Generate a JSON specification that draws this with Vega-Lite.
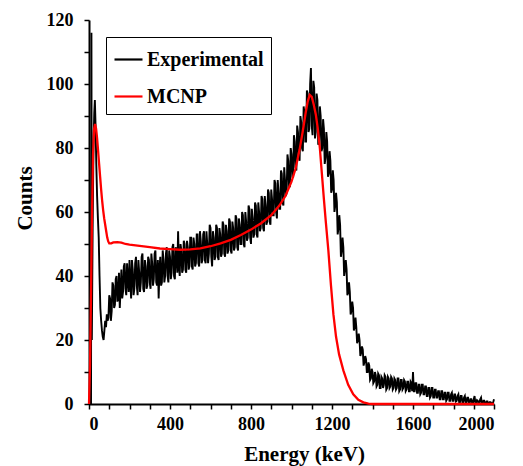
{
"$schema": "https://vega.github.io/schema/vega-lite/v6.json",
"width": 405, "height": 384,
"autosize": {"type": "none"},
"padding": {"left": 89, "top": 20, "right": 29, "bottom": 62},
"background": "white",
"config": {"view": {"stroke": null}, "font": "Liberation Serif",
 "axis": {"domainColor": "black", "domainWidth": 2, "grid": false, "tickColor": "black", "tickWidth": 1.5, "tickSize": 5,
  "labelFont": "Liberation Serif", "labelFontWeight": "bold", "labelFontSize": 18, "labelColor": "black",
  "titleFont": "Liberation Serif", "titleFontWeight": "bold", "titleFontSize": 21, "titleColor": "black"}},
"datasets": {
"exp": [
{"e":0,"c":0},{"e":6,"c":0},{"e":10,"c":0},{"e":12,"c":116},{"e":14,"c":20},{"e":18,"c":55},{"e":22,"c":80},{"e":26,"c":91},{"e":29,"c":95},{"e":32,"c":88},{"e":36,"c":75},{"e":40,"c":65},{"e":44,"c":58},{"e":48,"c":52},{"e":52,"c":40},{"e":56,"c":30},{"e":60,"c":26},{"e":64,"c":23},{"e":68,"c":21},{"e":72,"c":20},{"e":76,"c":23},{"e":80,"c":26},{"e":84,"c":24},{"e":88,"c":28},{"e":92,"c":26},
{"e":96,"c":27},{"e":100,"c":34},{"e":104,"c":33},{"e":108,"c":26},{"e":112,"c":29},{"e":116,"c":38},{"e":120,"c":37},{"e":124,"c":30},{"e":128,"c":31},{"e":132,"c":39},{"e":136,"c":40},{"e":140,"c":32},{"e":144,"c":33},{"e":148,"c":41},{"e":152,"c":30},{"e":156,"c":36},{"e":160,"c":42},{"e":164,"c":33},{"e":168,"c":35},{"e":172,"c":43},{"e":176,"c":44},{"e":180,"c":36},{"e":184,"c":34},{"e":188,"c":44},{"e":192,"c":39},{"e":196,"c":35},{"e":200,"c":45},
{"e":204,"c":38},{"e":208,"c":33},{"e":212,"c":45},{"e":216,"c":42},{"e":220,"c":34},{"e":224,"c":36},{"e":228,"c":44},{"e":232,"c":46},{"e":236,"c":37},{"e":240,"c":34},{"e":244,"c":45},{"e":248,"c":41},{"e":252,"c":35},{"e":256,"c":38},{"e":260,"c":46},{"e":264,"c":47},{"e":268,"c":36},{"e":272,"c":35},{"e":276,"c":45},{"e":280,"c":43},{"e":284,"c":36},{"e":288,"c":37},{"e":292,"c":46},{"e":296,"c":45},{"e":300,"c":38},
{"e":304,"c":36},{"e":308,"c":47},{"e":312,"c":44},{"e":316,"c":37},{"e":320,"c":39},{"e":324,"c":47},{"e":328,"c":48},{"e":332,"c":38},{"e":336,"c":37},{"e":340,"c":45},{"e":344,"c":33},{"e":348,"c":42},{"e":352,"c":46},{"e":356,"c":37},{"e":360,"c":38},{"e":364,"c":48},{"e":368,"c":45},{"e":372,"c":38},{"e":376,"c":40},{"e":380,"c":47},{"e":384,"c":49},{"e":388,"c":40},{"e":392,"c":38},{"e":396,"c":48},{"e":400,"c":46},
{"e":404,"c":39},{"e":408,"c":41},{"e":412,"c":49},{"e":416,"c":50},{"e":420,"c":40},{"e":424,"c":39},{"e":428,"c":49},{"e":432,"c":47},{"e":436,"c":41},{"e":440,"c":54},{"e":444,"c":43},{"e":448,"c":40},{"e":452,"c":50},{"e":456,"c":48},{"e":460,"c":41},{"e":464,"c":42},{"e":468,"c":51},{"e":472,"c":50},{"e":476,"c":42},{"e":480,"c":41},{"e":484,"c":51},{"e":488,"c":49},{"e":492,"c":42},{"e":496,"c":43},{"e":500,"c":52},
{"e":504,"c":52},{"e":508,"c":43},{"e":512,"c":42},{"e":516,"c":52},{"e":520,"c":50},{"e":524,"c":43},{"e":528,"c":44},{"e":532,"c":53},{"e":536,"c":53},{"e":540,"c":44},{"e":544,"c":43},{"e":548,"c":54},{"e":552,"c":51},{"e":556,"c":44},{"e":560,"c":45},{"e":564,"c":53},{"e":568,"c":54},{"e":572,"c":45},{"e":576,"c":44},{"e":580,"c":54},{"e":584,"c":50},{"e":588,"c":44},{"e":592,"c":47},{"e":596,"c":56},{"e":600,"c":55},
{"e":604,"c":46},{"e":608,"c":43},{"e":612,"c":54},{"e":616,"c":52},{"e":620,"c":45},{"e":624,"c":46},{"e":628,"c":56},{"e":632,"c":55},{"e":636,"c":46},{"e":640,"c":45},{"e":644,"c":55},{"e":648,"c":53},{"e":652,"c":46},{"e":656,"c":47},{"e":660,"c":57},{"e":664,"c":56},{"e":668,"c":47},{"e":672,"c":46},{"e":676,"c":56},{"e":680,"c":54},{"e":684,"c":47},{"e":688,"c":48},{"e":692,"c":58},{"e":696,"c":57},{"e":700,"c":48},
{"e":704,"c":47},{"e":708,"c":57},{"e":712,"c":55},{"e":716,"c":48},{"e":720,"c":49},{"e":724,"c":59},{"e":728,"c":58},{"e":732,"c":49},{"e":736,"c":48},{"e":740,"c":58},{"e":744,"c":56},{"e":748,"c":50},{"e":752,"c":50},{"e":756,"c":60},{"e":760,"c":59},{"e":764,"c":50},{"e":768,"c":49},{"e":772,"c":60},{"e":776,"c":57},{"e":780,"c":51},{"e":784,"c":52},{"e":788,"c":62},{"e":792,"c":61},{"e":796,"c":52},{"e":800,"c":50},
{"e":804,"c":61},{"e":808,"c":58},{"e":812,"c":52},{"e":816,"c":53},{"e":820,"c":63},{"e":824,"c":62},{"e":828,"c":53},{"e":832,"c":52},{"e":836,"c":63},{"e":840,"c":60},{"e":844,"c":54},{"e":848,"c":55},{"e":852,"c":65},{"e":856,"c":64},{"e":860,"c":55},{"e":864,"c":54},{"e":868,"c":65},{"e":872,"c":62},{"e":876,"c":56},{"e":880,"c":57},{"e":884,"c":67},{"e":888,"c":66},{"e":892,"c":57},{"e":896,"c":56},{"e":900,"c":67},
{"e":904,"c":64},{"e":908,"c":59},{"e":912,"c":59},{"e":916,"c":70},{"e":920,"c":69},{"e":924,"c":60},{"e":928,"c":58},{"e":932,"c":70},{"e":936,"c":66},{"e":940,"c":61},{"e":944,"c":61},{"e":948,"c":73},{"e":952,"c":72},{"e":956,"c":63},{"e":960,"c":62},{"e":964,"c":74},{"e":968,"c":70},{"e":972,"c":65},{"e":976,"c":66},{"e":980,"c":78},{"e":984,"c":76},{"e":988,"c":68},{"e":992,"c":68},{"e":996,"c":80},{"e":1000,"c":78},
{"e":1004,"c":71},{"e":1008,"c":71},{"e":1012,"c":84},{"e":1016,"c":82},{"e":1020,"c":74},{"e":1024,"c":73},{"e":1028,"c":87},{"e":1032,"c":85},{"e":1036,"c":77},{"e":1040,"c":76},{"e":1044,"c":90},{"e":1048,"c":88},{"e":1052,"c":80},{"e":1056,"c":79},{"e":1060,"c":93},{"e":1064,"c":91},{"e":1068,"c":82},{"e":1072,"c":82},{"e":1076,"c":98},{"e":1080,"c":97},{"e":1084,"c":85},{"e":1088,"c":86},{"e":1092,"c":100},{"e":1096,"c":105},{"e":1100,"c":87},
{"e":1104,"c":84},{"e":1108,"c":101},{"e":1112,"c":99},{"e":1116,"c":83},{"e":1120,"c":85},{"e":1124,"c":97},{"e":1128,"c":95},{"e":1132,"c":81},{"e":1136,"c":82},{"e":1140,"c":93},{"e":1144,"c":90},{"e":1148,"c":79},{"e":1152,"c":80},{"e":1156,"c":89},{"e":1160,"c":86},{"e":1164,"c":75},{"e":1168,"c":77},{"e":1172,"c":85},{"e":1176,"c":82},{"e":1180,"c":71},{"e":1184,"c":72},{"e":1188,"c":79},{"e":1192,"c":76},{"e":1196,"c":66},{"e":1200,"c":67},
{"e":1204,"c":73},{"e":1208,"c":70},{"e":1212,"c":60},{"e":1216,"c":62},{"e":1220,"c":66},{"e":1224,"c":63},{"e":1228,"c":53},{"e":1232,"c":55},{"e":1236,"c":59},{"e":1240,"c":56},{"e":1244,"c":46},{"e":1248,"c":48},{"e":1252,"c":52},{"e":1256,"c":49},{"e":1260,"c":40},{"e":1264,"c":42},{"e":1268,"c":45},{"e":1272,"c":42},{"e":1276,"c":34},{"e":1280,"c":35},{"e":1284,"c":38},{"e":1288,"c":35},{"e":1292,"c":28},{"e":1296,"c":29},{"e":1300,"c":32},
{"e":1304,"c":30},{"e":1308,"c":23},{"e":1312,"c":24},{"e":1316,"c":27},{"e":1320,"c":24},{"e":1324,"c":19},{"e":1328,"c":20},{"e":1332,"c":22},{"e":1336,"c":20},{"e":1340,"c":15},{"e":1344,"c":16},{"e":1348,"c":18},{"e":1352,"c":17},{"e":1356,"c":12},{"e":1360,"c":13},{"e":1364,"c":15},{"e":1368,"c":14},{"e":1372,"c":10},{"e":1376,"c":10},{"e":1380,"c":13},{"e":1384,"c":12},{"e":1388,"c":7.5},{"e":1392,"c":8},{"e":1396,"c":11},{"e":1400,"c":10},
{"e":1404,"c":6.5},{"e":1408,"c":7},{"e":1412,"c":10},{"e":1416,"c":9},{"e":1420,"c":5.5},{"e":1424,"c":6},{"e":1428,"c":9.5},{"e":1432,"c":9},{"e":1436,"c":5},{"e":1440,"c":5},{"e":1444,"c":8.5},{"e":1448,"c":8},{"e":1452,"c":5},{"e":1456,"c":6},{"e":1460,"c":9},{"e":1464,"c":8.5},{"e":1468,"c":4.5},{"e":1472,"c":5},{"e":1476,"c":8.5},{"e":1480,"c":8},{"e":1484,"c":5},{"e":1488,"c":5.5},{"e":1492,"c":8.5},{"e":1496,"c":8},{"e":1500,"c":4.5},
{"e":1504,"c":5},{"e":1508,"c":8},{"e":1512,"c":7.5},{"e":1516,"c":4.5},{"e":1520,"c":5},{"e":1524,"c":8},{"e":1528,"c":8},{"e":1532,"c":4},{"e":1536,"c":4.5},{"e":1540,"c":7.5},{"e":1544,"c":7.5},{"e":1548,"c":4.5},{"e":1552,"c":5},{"e":1556,"c":7.5},{"e":1560,"c":7},{"e":1564,"c":4},{"e":1568,"c":4.5},{"e":1572,"c":7},{"e":1576,"c":7},{"e":1580,"c":4},{"e":1584,"c":4},{"e":1588,"c":7},{"e":1592,"c":6.5},{"e":1596,"c":4},{"e":1600,"c":10},
{"e":1604,"c":4},{"e":1608,"c":4},{"e":1612,"c":6.5},{"e":1616,"c":6.5},{"e":1620,"c":3.5},{"e":1624,"c":3.5},{"e":1628,"c":6},{"e":1632,"c":6},{"e":1636,"c":3},{"e":1640,"c":3.5},{"e":1644,"c":6},{"e":1648,"c":6},{"e":1652,"c":3},{"e":1656,"c":3},{"e":1660,"c":5.5},{"e":1664,"c":5.5},{"e":1668,"c":2.5},{"e":1672,"c":2.5},{"e":1676,"c":5},{"e":1680,"c":5},{"e":1684,"c":2},{"e":1688,"c":2.5},{"e":1692,"c":5},{"e":1696,"c":5},{"e":1700,"c":2},
{"e":1704,"c":2},{"e":1708,"c":4.5},{"e":1712,"c":4.5},{"e":1716,"c":2},{"e":1720,"c":2},{"e":1724,"c":4},{"e":1728,"c":4},{"e":1732,"c":1.5},{"e":1736,"c":1.5},{"e":1740,"c":4},{"e":1744,"c":4},{"e":1748,"c":1.5},{"e":1752,"c":1.5},{"e":1756,"c":3.5},{"e":1760,"c":3.5},{"e":1764,"c":1},{"e":1768,"c":1.5},{"e":1772,"c":3.5},{"e":1776,"c":3.5},{"e":1780,"c":1},{"e":1784,"c":1},{"e":1788,"c":3},{"e":1792,"c":3.5},{"e":1796,"c":1},{"e":1800,"c":1},
{"e":1804,"c":3},{"e":1808,"c":3},{"e":1812,"c":0.8},{"e":1816,"c":1},{"e":1820,"c":2.5},{"e":1824,"c":3},{"e":1828,"c":0.5},{"e":1832,"c":0.5},{"e":1836,"c":2.5},{"e":1840,"c":2.5},{"e":1844,"c":0.5},{"e":1848,"c":0.5},{"e":1852,"c":2},{"e":1856,"c":2.5},{"e":1860,"c":0.4},{"e":1864,"c":0.5},{"e":1868,"c":2},{"e":1872,"c":2},{"e":1876,"c":0.3},{"e":1880,"c":0.3},{"e":1884,"c":1.5},{"e":1888,"c":1.5},{"e":1892,"c":0.3},{"e":1896,"c":0.3},{"e":1900,"c":1.5},
{"e":1904,"c":2.5},{"e":1908,"c":0.3},{"e":1912,"c":0.3},{"e":1916,"c":1.2},{"e":1920,"c":1},{"e":1924,"c":0.3},{"e":1928,"c":0.3},{"e":1932,"c":1.5},{"e":1936,"c":2},{"e":1940,"c":0.2},{"e":1944,"c":0.2},{"e":1948,"c":1},{"e":1952,"c":1},{"e":1956,"c":0.2},{"e":1960,"c":0.2},{"e":1964,"c":0.8},{"e":1968,"c":0.8},{"e":1972,"c":0.2},{"e":1976,"c":0.2},{"e":1980,"c":0.6},{"e":1984,"c":0.5},{"e":1988,"c":0.2},{"e":1992,"c":0.2},{"e":1996,"c":0.5},{"e":2000,"c":1.5}
],
"mcnp": [
{"e":0,"c":0},{"e":5,"c":12},{"e":10,"c":35},{"e":15,"c":60},{"e":20,"c":78},{"e":25,"c":86},{"e":30,"c":87.5},{"e":35,"c":86},{"e":40,"c":83},{"e":45,"c":79},{"e":50,"c":75},{"e":55,"c":71},{"e":60,"c":67},{"e":65,"c":63.5},{"e":70,"c":60.5},{"e":75,"c":58},{"e":80,"c":56},{"e":85,"c":54},{"e":90,"c":52},{"e":95,"c":50.8},{"e":100,"c":50.2},
{"e":110,"c":50.2},{"e":120,"c":50.5},{"e":140,"c":50.6},{"e":160,"c":50.4},{"e":180,"c":50},{"e":200,"c":49.8},{"e":250,"c":49.4},{"e":300,"c":49},{"e":350,"c":48.6},{"e":400,"c":48.4},{"e":450,"c":48.2},{"e":500,"c":48.3},{"e":550,"c":48.6},{"e":600,"c":49.3},{"e":650,"c":50.2},{"e":700,"c":51.3},{"e":750,"c":52.8},{"e":800,"c":54.5},{"e":850,"c":56.5},{"e":900,"c":59},{"e":940,"c":62},{"e":970,"c":65},{"e":1000,"c":69.5},{"e":1020,"c":73.5},{"e":1040,"c":79.5},{"e":1055,"c":85},{"e":1070,"c":91},{"e":1080,"c":94.5},{"e":1090,"c":96.6},{"e":1100,"c":96},{"e":1110,"c":93.5},{"e":1120,"c":90.5},{"e":1130,"c":86},{"e":1140,"c":80},{"e":1150,"c":72},{"e":1160,"c":64},{"e":1170,"c":56.5},{"e":1182,"c":48},{"e":1195,"c":37},{"e":1207,"c":28},{"e":1220,"c":21},{"e":1235,"c":15.5},{"e":1256,"c":10.5},{"e":1280,"c":6},{"e":1305,"c":3},{"e":1330,"c":1.3},{"e":1355,"c":0.5},{"e":1380,"c":0.1},{"e":1400,"c":0},{"e":1600,"c":0},{"e":2000,"c":0}
]
},
"layer": [
{"data": {"name": "exp"},
 "mark": {"type": "line", "strokeWidth": 1.9},
 "encoding": {
  "x": {"field": "e", "type": "quantitative", "scale": {"domain": [0, 2000], "nice": false},
   "axis": {"tickCount": 20,
    "labelExpr": "datum.value % 400 === 0 ? datum.label : ''", "format": "d", "labelPadding": 6,
    "title": "Energy (keV)", "titleX": 215, "titleY": 56, "titleAlign": "center", "titleBaseline": "alphabetic"}},
  "y": {"field": "c", "type": "quantitative", "scale": {"domain": [0, 120], "nice": false},
   "axis": {"tickCount": 12,
    "labelExpr": "datum.value % 20 === 0 ? datum.label : ''", "format": "d", "labelPadding": 11,
    "title": "Counts", "titleX": -64, "titleY": 178, "titleAngle": 270, "titleAlign": "center", "titleBaseline": "middle"}},
  "color": {"datum": "Experimental",
   "scale": {"domain": ["Experimental", "MCNP"], "range": ["#000000", "#ff0000"]},
   "legend": {"orient": "none", "legendX": 17, "legendY": 17, "title": null, "symbolType": "stroke", "symbolSize": 784,
    "symbolStrokeWidth": 2.2, "labelFontSize": 20, "labelFont": "Liberation Serif", "labelFontWeight": "bold", "labelColor": "black",
    "strokeColor": "black", "fillColor": "white", "padding": 7, "rowPadding": 11, "labelOffset": 3}}
 }},
{"data": {"name": "mcnp"},
 "mark": {"type": "line", "strokeWidth": 2.3},
 "encoding": {
  "x": {"field": "e", "type": "quantitative"},
  "y": {"field": "c", "type": "quantitative"},
  "color": {"datum": "MCNP"}
 }}
]
}
